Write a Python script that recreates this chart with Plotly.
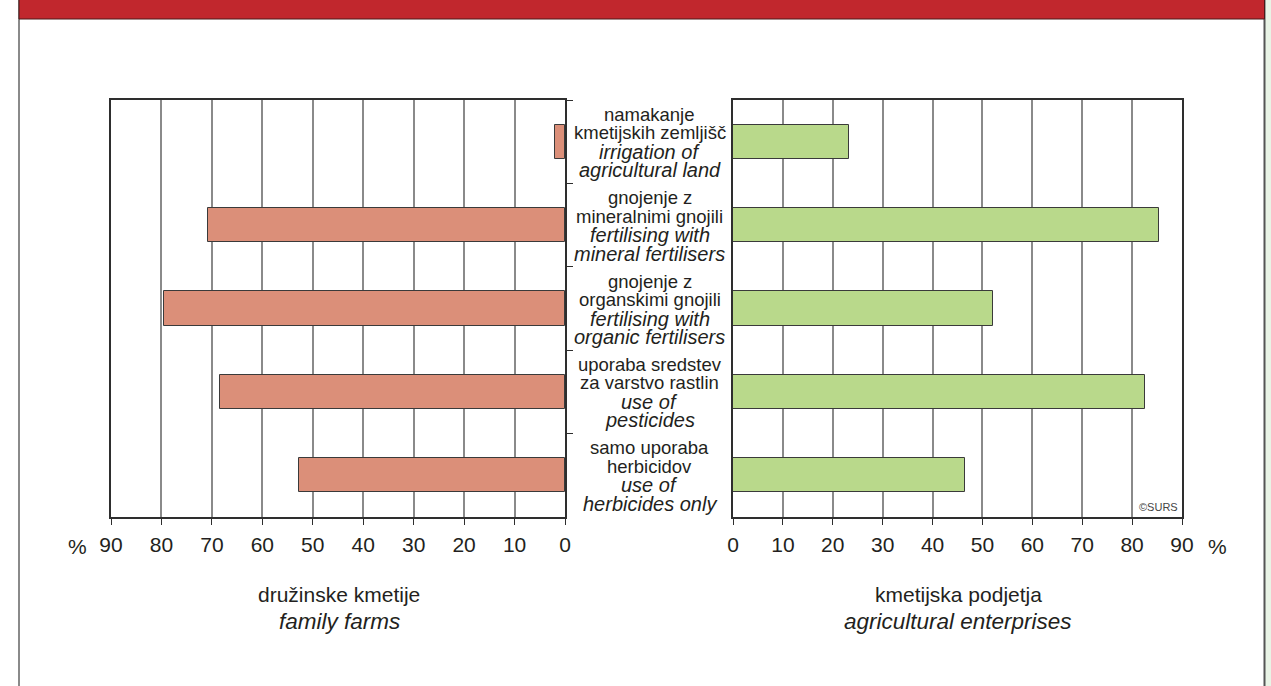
import plotly.graph_objects as go

W, H = 1271, 686

categories = ["irrigation", "mineral", "organic", "pesticides", "herbicides"]
labels_si = [
    ["namakanje", "kmetijskih zemljišč"],
    ["gnojenje z", "mineralnimi gnojili"],
    ["gnojenje z", "organskimi gnojili"],
    ["uporaba sredstev", "za varstvo rastlin"],
    ["samo uporaba", "herbicidov"],
]
labels_en = [
    ["irrigation of", "agricultural land"],
    ["fertilising with", "mineral fertilisers"],
    ["fertilising with", "organic fertilisers"],
    ["use of", "pesticides"],
    ["use of", "herbicides only"],
]
family_farms = [2.0, 70.8, 79.4, 68.4, 52.8]
enterprises = [23.2, 85.4, 52.2, 82.6, 46.6]
tick_vals = [0, 10, 20, 30, 40, 50, 60, 70, 80, 90]

def px(x):
    return x / W

def py(y):
    return 1 - y / H

FONT = "Liberation Sans, Arial, Helvetica, sans-serif"
TXT = "#231f20"

fig = go.Figure()
fig.add_trace(go.Bar(
    x=family_farms, y=categories, orientation="h", xaxis="x", yaxis="y",
    marker=dict(color="#db8f79", line=dict(color="#3a3a3a", width=1)),
    width=0.41, showlegend=False, hoverinfo="x+y"))
fig.add_trace(go.Bar(
    x=enterprises, y=categories, orientation="h", xaxis="x2", yaxis="y2",
    marker=dict(color="#b9d98b", line=dict(color="#3a3a3a", width=1)),
    width=0.41, showlegend=False, hoverinfo="x+y"))

ydom = [py(517), py(100)]
common_x = dict(
    tickmode="array", tickvals=tick_vals, ticktext=[str(v) for v in tick_vals],
    showgrid=True, gridcolor="#8a8a8a", gridwidth=1.5,
    showline=True, linecolor="#2e2e2e", linewidth=2, mirror=True,
    ticks="outside", ticklen=6, tickcolor="#2e2e2e", tickwidth=1,
    tickfont=dict(family=FONT, size=21, color=TXT),
    ticklabelstandoff=2, zeroline=False, fixedrange=True, automargin=False,
)
common_y = dict(
    type="category", categoryorder="array", categoryarray=categories,
    range=[4.5, -0.5], showgrid=False, showticklabels=False,
    showline=True, linecolor="#2e2e2e", linewidth=2, mirror=True,
    zeroline=False, fixedrange=True, automargin=False,
)

fig.update_layout(
    width=W, height=H, margin=dict(l=0, r=0, t=0, b=0, pad=0, autoexpand=False),
    paper_bgcolor="white", plot_bgcolor="white",
    bargap=0,
    xaxis=dict(domain=[px(111), px(565)], range=[90, 0], anchor="y", **common_x),
    xaxis2=dict(domain=[px(733), px(1182)], range=[0, 90], anchor="y2", **common_x),
    yaxis=dict(domain=ydom, anchor="x", side="right", ticks="outside",
               tickson="boundaries", ticklen=6, tickcolor="#2e2e2e", **common_y),
    yaxis2=dict(domain=ydom, anchor="x2", ticks="", **common_y),
)

shapes = []
# outer page frame
shapes.append(dict(type="rect", xref="paper", yref="paper", x0=px(1265), x1=1, y0=0, y1=1,
                   fillcolor="#e9f4e6", line=dict(width=0), layer="below"))
shapes.append(dict(type="line", xref="paper", yref="paper", x0=px(19), x1=px(19), y0=0, y1=1,
                   line=dict(color="#8a8a8a", width=2)))
shapes.append(dict(type="line", xref="paper", yref="paper", x0=px(1264.5), x1=px(1264.5), y0=0, y1=1,
                   line=dict(color="#555555", width=2)))
shapes.append(dict(type="rect", xref="paper", yref="paper", x0=px(19), x1=px(1264.5), y0=py(19), y1=1.01,
                   fillcolor="#c1272d", line=dict(color="#4a1a1a", width=1)))
fig.update_layout(shapes=shapes)

ann = []
# category labels
line_offsets = [27.5, 9, -10, -28.5]
for cat, si, en in zip(categories, labels_si, labels_en):
    lines = [(si[0], False), (si[1], False), (en[0], True), (en[1], True)]
    for (t, it), off in zip(lines, line_offsets):
        ann.append(dict(x=px(650), xref="paper", y=cat, yref="y", yshift=off,
                        text=f"<i>{t}</i>" if it else t, showarrow=False,
                        xanchor="center", yanchor="middle",
                        font=dict(family=FONT, size=20 if it else 18.5, color=TXT)))
# percent signs
ann.append(dict(x=px(77), y=py(546), xref="paper", yref="paper", text="%", showarrow=False,
                xanchor="center", yanchor="middle", font=dict(family=FONT, size=21, color=TXT)))
ann.append(dict(x=px(1217), y=py(546), xref="paper", yref="paper", text="%", showarrow=False,
                xanchor="center", yanchor="middle", font=dict(family=FONT, size=21, color=TXT)))
# bottom titles
for xc, t1, t2 in [(339, "družinske kmetije", "family farms"),
                   (958, "kmetijska podjetja", "agricultural enterprises")]:
    ann.append(dict(x=px(xc), y=py(594), xref="paper", yref="paper", text=t1, showarrow=False,
                    xanchor="center", yanchor="middle", font=dict(family=FONT, size=21, color=TXT)))
    ann.append(dict(x=px(xc), y=py(621), xref="paper", yref="paper", text=f"<i>{t2}</i>", showarrow=False,
                    xanchor="center", yanchor="middle", font=dict(family=FONT, size=22.5, color=TXT)))
# copyright
ann.append(dict(x=px(1180), y=py(515), xref="paper", yref="paper", text="©SURS", showarrow=False,
                xanchor="right", yanchor="bottom", font=dict(family=FONT, size=11, color="#444")))
fig.update_layout(annotations=ann)

fig.write_html("out.html", config={"displayModeBar": False},
               post_script="document.body.style.margin='0';document.body.style.overflow='hidden';")
